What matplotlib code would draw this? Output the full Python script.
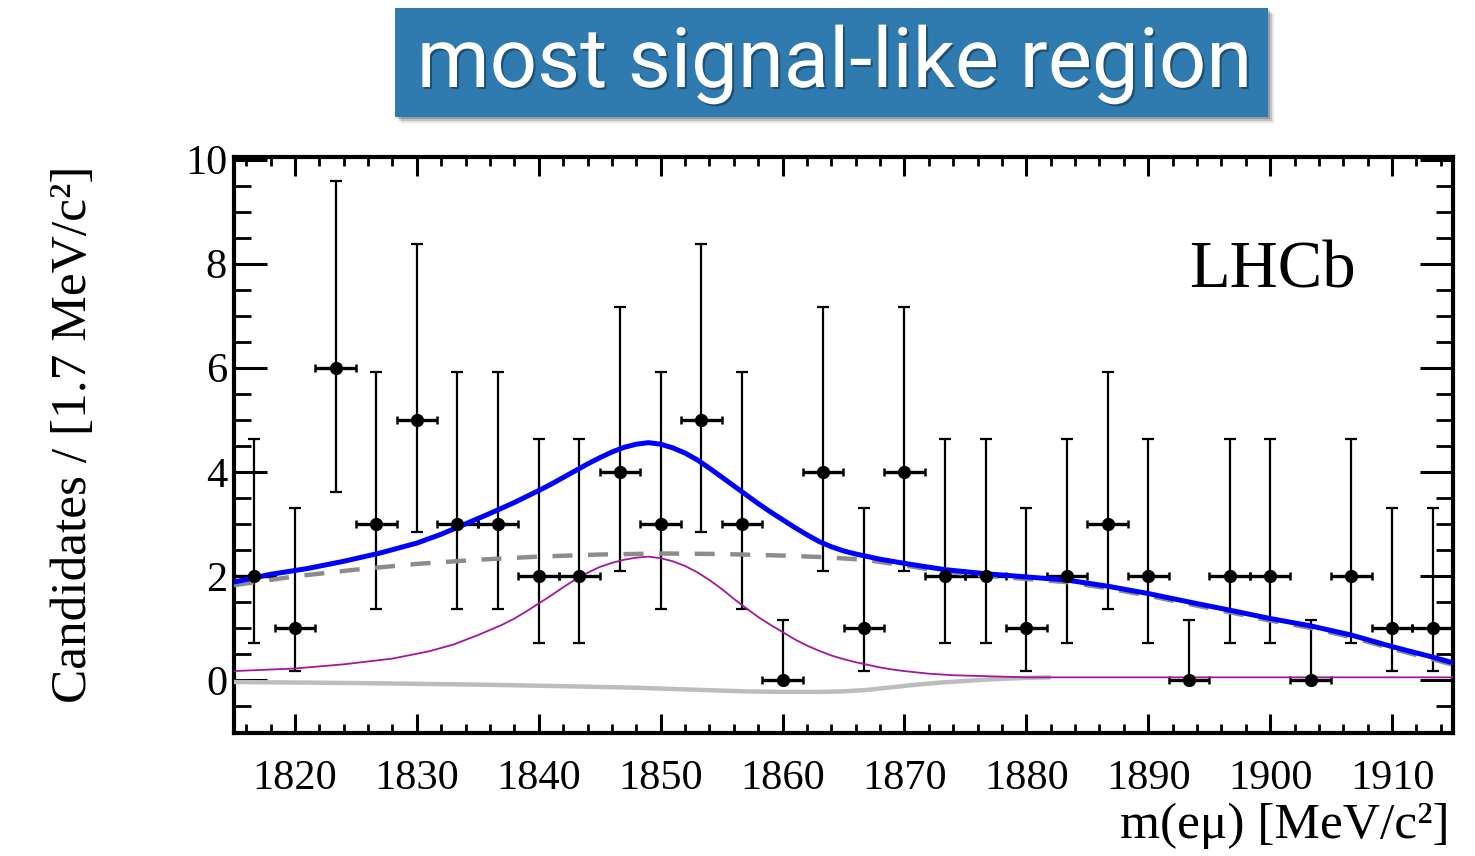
import matplotlib
matplotlib.use("Agg")
import matplotlib.pyplot as plt
from matplotlib.patches import Rectangle
from matplotlib.ticker import MultipleLocator
import matplotlib.patheffects as pe

# ---------------- data ----------------
mass = [1816.67, 1820.00, 1823.33, 1826.67, 1830.00, 1833.33, 1836.67, 1840.00,
        1843.33, 1846.67, 1850.00, 1853.33, 1856.67, 1860.00, 1863.33, 1866.67,
        1870.00, 1873.33, 1876.67, 1880.00, 1883.33, 1886.67, 1890.00, 1893.33,
        1896.67, 1900.00, 1903.33, 1906.67, 1910.00, 1913.33]
counts = [2, 1, 6, 3, 5, 3, 3, 2, 2, 4, 3, 5, 3, 0, 4, 1, 4, 2, 2, 1,
          2, 3, 2, 0, 2, 2, 0, 2, 1, 1]
half_bin = 1.667
poisson_lo = {0: 0.0, 1: 0.827, 2: 1.292, 3: 1.633, 4: 1.914, 5: 2.159, 6: 2.380}
poisson_hi = {0: 1.148, 1: 2.299, 2: 2.637, 3: 2.918, 4: 3.162, 5: 3.382, 6: 3.583}

total_x = [1815, 1818, 1821, 1824, 1827, 1830, 1832, 1834, 1836, 1838,
           1840, 1841, 1842, 1843, 1844, 1845, 1846, 1847, 1848, 1849,
           1850, 1851, 1852, 1853, 1854, 1855, 1856, 1857, 1858, 1859,
           1860, 1861, 1862, 1863, 1864, 1865, 1866, 1867, 1868, 1869,
           1870, 1873.3, 1876.7, 1880, 1883.3, 1886.7, 1890, 1893.3, 1896.7, 1900,
           1903.3, 1906.7, 1910, 1913.3, 1915]
total_y = [1.88, 2.03, 2.14, 2.28, 2.44, 2.63, 2.80, 3.00, 3.20, 3.41,
           3.64, 3.76, 3.89, 4.02, 4.15, 4.27, 4.38, 4.47, 4.53, 4.56,
           4.53, 4.46, 4.36, 4.23, 4.07, 3.90, 3.73, 3.56, 3.39, 3.23,
           3.08, 2.93, 2.79, 2.66, 2.56, 2.48, 2.42, 2.37, 2.32, 2.28,
           2.24, 2.12, 2.04, 1.98, 1.92, 1.80, 1.66, 1.50, 1.34, 1.18,
           1.04, 0.86, 0.64, 0.44, 0.33]

bkg_x = [1815, 1820, 1825, 1830, 1835, 1840, 1845, 1850, 1855, 1860,
         1863.3, 1866.7, 1870, 1873.3, 1876.7, 1880, 1883.3, 1886.7, 1890, 1893.3,
         1896.7, 1900, 1903.3, 1906.7, 1910, 1913.3, 1915]
bkg_y = [1.82, 1.99, 2.12, 2.23, 2.31, 2.37, 2.41, 2.43, 2.42, 2.39,
         2.36, 2.31, 2.20, 2.08, 2.00, 1.94, 1.88, 1.76, 1.62, 1.46,
         1.30, 1.14, 1.00, 0.82, 0.60, 0.40, 0.29]

sig_x = [1815, 1820, 1824, 1828, 1831, 1833, 1834, 1835, 1836, 1837,
         1838, 1839, 1840, 1841, 1842, 1843, 1844, 1845, 1846, 1847,
         1848, 1849, 1850, 1851, 1852, 1853, 1854, 1855, 1856, 1857,
         1858, 1859, 1860, 1861, 1862, 1863, 1864, 1865, 1866, 1867,
         1868, 1869, 1870, 1872, 1874, 1877, 1880, 1915]
sig_y = [0.17, 0.22, 0.30, 0.41, 0.55, 0.68, 0.77, 0.86, 0.96, 1.06,
         1.18, 1.32, 1.47, 1.62, 1.78, 1.93, 2.06, 2.17, 2.25, 2.31,
         2.35, 2.37, 2.34, 2.28, 2.19, 2.07, 1.92, 1.75, 1.56, 1.38,
         1.21, 1.06, 0.92, 0.78, 0.66, 0.56, 0.47, 0.40, 0.34, 0.29,
         0.24, 0.20, 0.17, 0.12, 0.09, 0.07, 0.05, 0.05]

neg_x = [1815, 1825, 1835, 1842, 1848, 1853, 1857, 1860, 1863, 1865,
         1867, 1869, 1871, 1873, 1875, 1877, 1880, 1882]
neg_y = [-0.04, -0.06, -0.09, -0.12, -0.15, -0.19, -0.22, -0.23, -0.23, -0.22,
         -0.19, -0.14, -0.09, -0.05, -0.02, 0.01, 0.04, 0.05]

x_ticks = [1820, 1830, 1840, 1850, 1860, 1870, 1880, 1890, 1900, 1910]
y_ticks = [0, 2, 4, 6, 8, 10]

# ---------------- figure ----------------
W, H = 1475, 856
fig = plt.figure(figsize=(W / 100, H / 100), dpi=100)
serif = ["Liberation Serif", "DejaVu Serif"]

ax = fig.add_axes([234 / W, 1 - 733 / H, (1453 - 234) / W, (733 - 157) / H])
ax.set_xlim(1815, 1915)
ax.set_ylim(-1.02, 10.05)

lo = [poisson_lo[c] for c in counts]
hi = [poisson_hi[c] for c in counts]

# data error bars
ax.errorbar(mass, counts, yerr=[lo, hi], fmt="none", ecolor="black",
            elinewidth=1.6, capsize=4, capthick=1.6, zorder=2)
ax.errorbar(mass, counts, xerr=half_bin, fmt="none", ecolor="black",
            elinewidth=2.4, capsize=3, capthick=1.8, zorder=2)

# fit components
ax.plot(neg_x, neg_y, color="#bdbdbd", lw=3.2, solid_capstyle="butt",
        solid_joinstyle="round", zorder=3)
ax.plot(bkg_x, bkg_y, color="#8c8c8c", lw=3.2, ls=(0, (4.5, 3.5)), zorder=3)
ax.plot(sig_x, sig_y, color="#a3169e", lw=1.3, solid_joinstyle="round", zorder=4)
ax.plot(total_x, total_y, color="#0000ff", lw=3.6, solid_joinstyle="round", zorder=5)

# data markers
ax.plot(mass, counts, "o", color="black", ms=8.5, zorder=6)

# axes styling
for s in ax.spines.values():
    s.set_linewidth(3.0)
ax.set_xticks(x_ticks)
ax.set_yticks(y_ticks)
ax.xaxis.set_minor_locator(MultipleLocator(2))
ax.yaxis.set_minor_locator(MultipleLocator(0.5))
ax.tick_params(axis="both", which="both", direction="in", top=True, right=True)
ax.tick_params(axis="x", which="major", length=14, width=2.2, pad=19)
ax.tick_params(axis="x", which="minor", length=6.5, width=2.0)
ax.tick_params(axis="y", which="major", length=24, width=2.2, pad=5)
ax.tick_params(axis="y", which="minor", length=12.5, width=2.0)
for lab in ax.get_xticklabels() + ax.get_yticklabels():
    lab.set_fontfamily(serif)
    lab.set_fontsize(30.5)

ax.text(1907, 7.55, "LHCb", fontfamily=serif, fontsize=48, ha="right",
        va="baseline", zorder=7)

fig.text(1450 / W, 1 - 826 / H, "m(eμ) [MeV/c²]", fontfamily=serif,
         fontsize=37, ha="right", va="center")
fig.text(74 / W, 1 - 434 / H, "Candidates / [1.7 MeV/c²]", fontfamily=serif,
         fontsize=37, rotation=90, ha="center", va="center")

# title banner with shadow
bx0, by0, bx1, by1 = 395, 8, 1268, 117
for k, a in [(6, 0.10), (4, 0.15), (2, 0.2)]:
    fig.patches.append(Rectangle(((bx0 + k) / W, 1 - (by1 + k) / H),
                                 (bx1 - bx0) / W, (by1 - by0) / H,
                                 transform=fig.transFigure, facecolor="black",
                                 alpha=a, edgecolor="none", zorder=1))
fig.patches.append(Rectangle((bx0 / W, 1 - by1 / H), (bx1 - bx0) / W,
                             (by1 - by0) / H, transform=fig.transFigure,
                             facecolor="#2f7bb0", edgecolor="none", zorder=2))
title = fig.text(834 / W, 1 - 87 / H, "most signal-like region",
                 fontfamily=["Roboto", "DejaVu Sans"], fontsize=66, color="white",
                 ha="center", va="baseline", zorder=3,
                 path_effects=[pe.withSimplePatchShadow(offset=(1.5, -1.5),
                                                        shadow_rgbFace="black",
                                                        alpha=0.35)])
fig.canvas.draw()
ext = title.get_window_extent()
title.set_fontsize(66 * 835 / ext.width)

fig.savefig("out.png", dpi=100)
